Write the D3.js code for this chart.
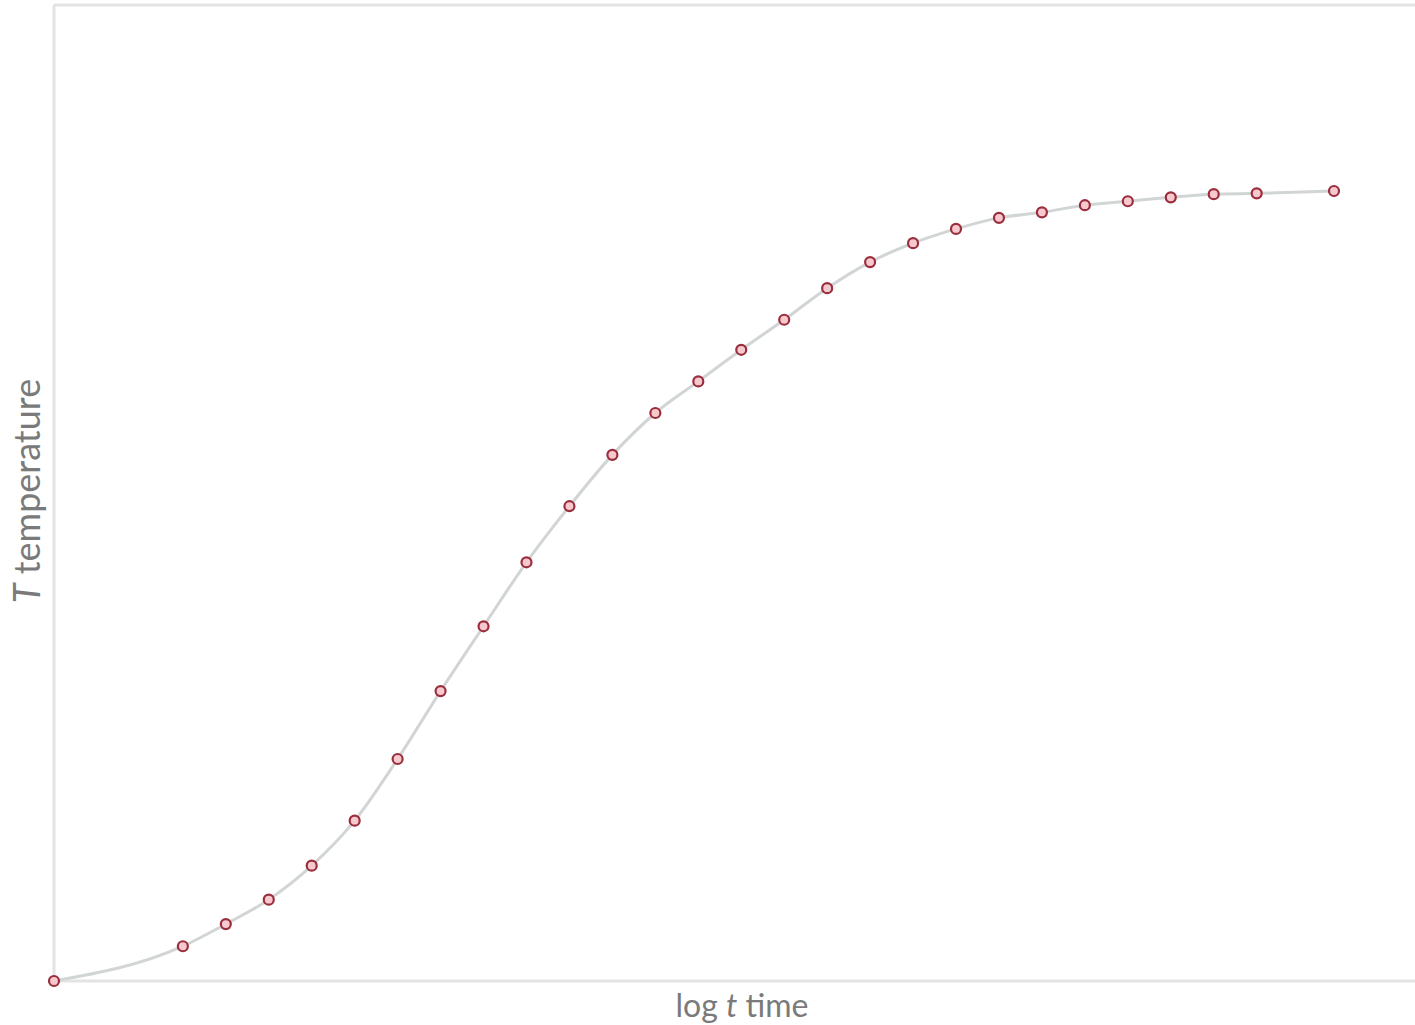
<!DOCTYPE html>
<html>
<head>
<meta charset="utf-8">
<script src="https://cdn.jsdelivr.net/npm/d3@7/dist/d3.min.js"></script>
<style>
  html, body { margin: 0; padding: 0; background: #ffffff; }
  svg { display: block; }
</style>
</head>
<body>
<svg id="chart" width="1415" height="1025"></svg>
<script>
// Heating curve: temperature against log time, sampled points
const logTime = [0, 3, 4, 5, 6, 7, 8, 9, 10, 11, 12, 13, 14, 15, 16, 17, 18, 19, 20, 21, 22, 23, 24, 25, 26, 27, 28, 29.8];
const temperature = [0, 0.044, 0.072, 0.103, 0.146, 0.203, 0.281, 0.367, 0.449, 0.530, 0.601, 0.666, 0.719, 0.759, 0.799, 0.837, 0.877, 0.910, 0.934, 0.952, 0.966, 0.973, 0.982, 0.987, 0.992, 0.996, 0.997, 1.0];
const xLabel = ["log ", "t", " time"];
const yLabel = ["T", " temperature"];

const svg = d3.select("#chart");
const W = 1415, H = 1025;
const plot = { left: 54, top: 5, bottom: 981 };

const x = d3.scaleLinear().domain([0, 29.8]).range([plot.left, 1334]);
const y = d3.scaleLinear().domain([0, 976 / 790]).range([plot.bottom, plot.top]);

const data = logTime.map((t, i) => ({ t, T: temperature[i] }));

// frame (open on the right)
const frame = svg.append("g").attr("stroke", "#e3e3e3").attr("stroke-width", 3).attr("fill", "none");
frame.append("line").attr("x1", plot.left).attr("x2", plot.left).attr("y1", plot.top).attr("y2", plot.bottom);
frame.append("line").attr("x1", plot.left).attr("x2", W + 5).attr("y1", plot.top).attr("y2", plot.top);
frame.append("line").attr("x1", plot.left).attr("x2", W + 5).attr("y1", plot.bottom).attr("y2", plot.bottom);

// smooth curve
const line = d3.line().x(d => x(d.t)).y(d => y(d.T)).curve(d3.curveMonotoneX);
svg.append("path")
  .datum(data)
  .attr("d", line)
  .attr("fill", "none")
  .attr("stroke", "#d2d5d5")
  .attr("stroke-width", 3);

// sample points
svg.append("g").selectAll("circle")
  .data(data)
  .join("circle")
  .attr("cx", d => x(d.t))
  .attr("cy", d => y(d.T))
  .attr("r", 5)
  .attr("fill", "#f7c9cf")
  .attr("stroke", "#9a2e3c")
  .attr("stroke-width", 2.2);

// axis titles
const xt = svg.append("text")
  .attr("x", 742).attr("y", 1017)
  .attr("text-anchor", "middle")
  .attr("font-family", "Lato, sans-serif")
  .attr("font-size", 32)
  .attr("fill", "#7a7a7a");
xt.selectAll("tspan").data(xLabel).join("tspan")
  .attr("font-style", (d, i) => i === 1 ? "italic" : null)
  .text(d => d);

const yt = svg.append("text")
  .attr("transform", "translate(40,491) rotate(-90)")
  .attr("text-anchor", "middle")
  .attr("font-family", "Lato, sans-serif")
  .attr("font-size", 36)
  .attr("fill", "#7a7a7a");
yt.selectAll("tspan").data(yLabel).join("tspan")
  .attr("font-style", (d, i) => i === 0 ? "italic" : null)
  .text(d => d);
</script>
</body>
</html>
